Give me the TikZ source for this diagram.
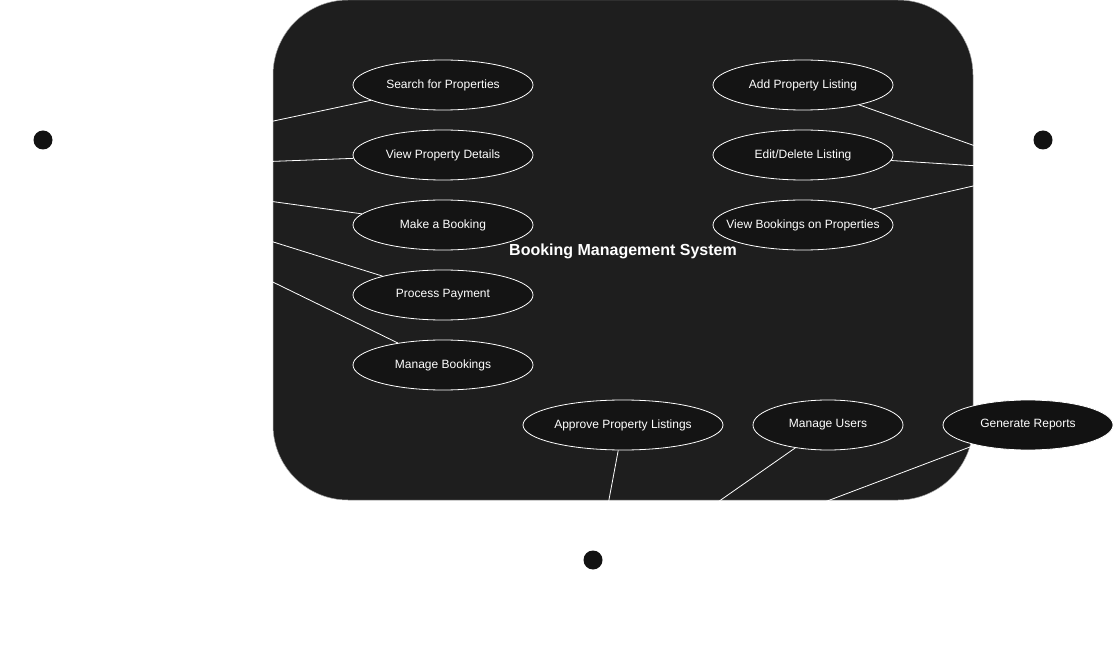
\documentclass[tikz,border=0pt]{standalone}
\usepackage{fontspec}
\setmainfont{Liberation Sans}
\usetikzlibrary{shapes.geometric}
\definecolor{sysfill}{HTML}{1E1E1E}
\definecolor{ucfill}{HTML}{141414}
\definecolor{headfill}{HTML}{121212}
\begin{document}
\begin{tikzpicture}[x=1pt,y=-1pt,
  usecase/.style={ellipse,draw=white,line width=0.8pt,fill=ucfill,text=white,inner sep=0pt,minimum height=50pt,font=\fontsize{12}{14}\selectfont},
  assoc/.style={draw=white,line width=0.8pt},
  head/.style={circle,fill=headfill,inner sep=0pt,minimum size=19pt}]
\useasboundingbox (0,0) rectangle (1114,652);
\node[draw=gray!70,line width=0.5pt,fill=sysfill,rounded corners=75pt,minimum width=700pt,minimum height=500pt,inner sep=0pt] (sys) at (623,250) {};
\node[text=white,font=\bfseries\fontsize{16}{19}\selectfont] (title) at (623,251) {Booking Management System};
% actor anchors
\coordinate (cust) at (43,170);
\coordinate (owner) at (1043,170);
\coordinate (admin) at (592,590);
% use cases
\node[usecase,minimum width=180pt] (search) at (443,85) {Search for Properties};
\node[usecase,minimum width=180pt] (details) at (443,155) {View Property Details};
\node[usecase,minimum width=180pt] (book) at (443,225) {Make a Booking};
\node[usecase,minimum width=180pt] (pay) at (443,295) {Process Payment};
\node[usecase,minimum width=180pt] (manageb) at (443,365) {Manage Bookings};
\node[usecase,minimum width=180pt] (add) at (803,85) {Add Property Listing};
\node[usecase,minimum width=180pt] (edit) at (803,155) {Edit/Delete Listing};
\node[usecase,minimum width=180pt,inner xsep=-15pt] (viewb) at (803,225) {View Bookings on Properties};
\node[usecase,minimum width=200pt] (approve) at (623,425) {Approve Property Listings};
\node[usecase,minimum width=150pt] (users) at (828,425) {Manage Users};
% connectors
\foreach \u in {search,details,book,pay,manageb}{\draw[assoc] (cust) -- (\u);}
\foreach \u in {add,edit,viewb}{\draw[assoc] (owner) -- (\u);}
\foreach \u in {approve,users}{\draw[assoc] (admin) -- (\u);}
\node[usecase,minimum width=170pt,fill=headfill] (reports) at (1028,425) {Generate Reports};
\draw[assoc] (admin) -- (reports);
% actors (heads)
\node[head] (h1) at (43,140) {};
\node[head] (h2) at (1043,140) {};
\node[head] (h3) at (593,560) {};
\end{tikzpicture}
\end{document}
